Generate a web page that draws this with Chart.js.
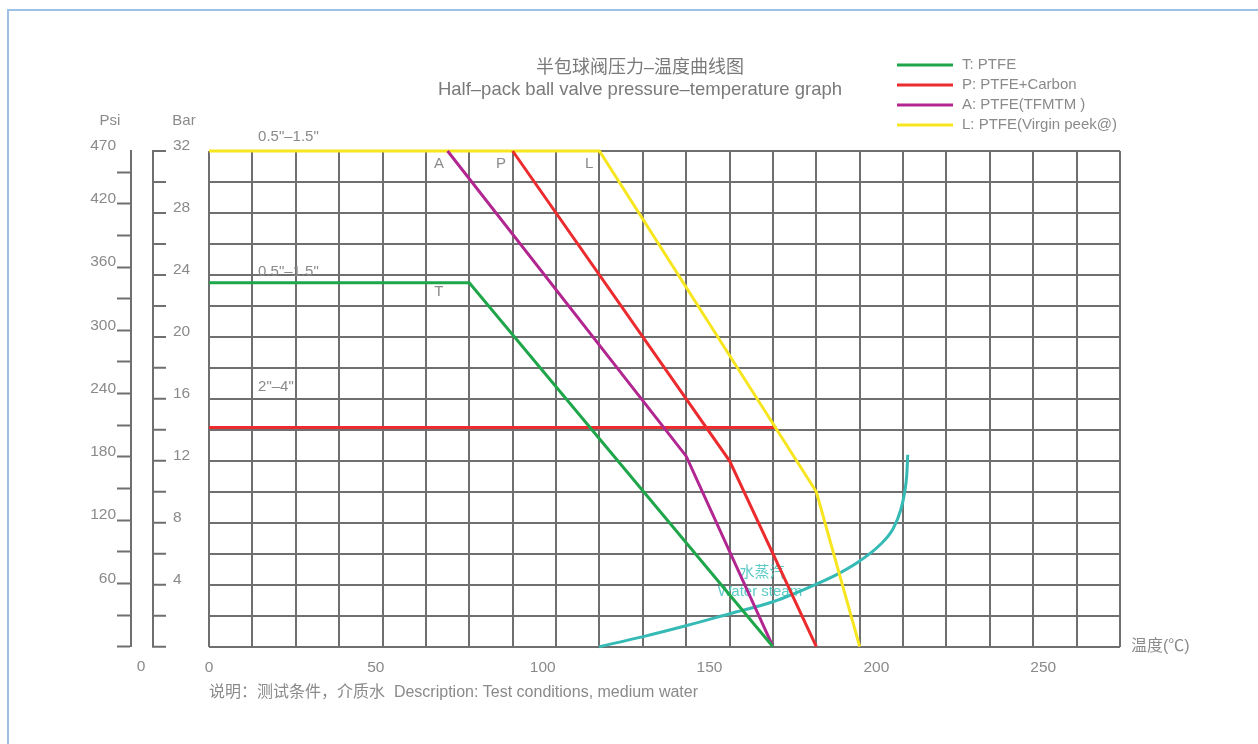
<!DOCTYPE html>
<html><head><meta charset="utf-8">
<script src="https://cdn.jsdelivr.net/npm/chart.js@4.4.1/dist/chart.umd.min.js"></script>
<style>
html,body{margin:0;padding:0;background:#fff;}
#wrap{position:relative;width:1258px;height:744px;overflow:hidden;}
#frame{position:absolute;left:7px;top:9px;width:1400px;height:900px;border-left:2px solid #9fc0e6;border-top:2px solid #9fc0e6;}
canvas{position:absolute;left:0;top:0;}
</style></head><body>
<div id="wrap"><div id="frame"></div><canvas id="c" width="1258" height="744"></canvas></div>
<script>
// ---- data: temperature (°C) on x, pressure (Bar) on y ----
const lineT_temp = [0, 78, 169];
const lineT_bar  = [23.5, 23.5, 0];
const lineP_temp = [91, 156, 182];
const lineP_bar  = [32, 12, 0];
const lineA_temp = [71.5, 143, 169];
const lineA_bar  = [32, 12.3, 0];
const lineL_temp = [0, 117, 182, 195];
const lineL_bar  = [32, 32, 10, 0];
const line2to4_temp = [0, 170];
const line2to4_bar  = [14.15, 14.15];
const steam_temp = [116.9, 130.1, 142.9, 156.1, 169.0, 182.2, 189.1, 195.1, 201.1, 205.0, 207.3, 208.5, 209.1, 209.4];
const steam_bar  = [0, 0.65, 1.35, 2.13, 2.90, 4.06, 4.77, 5.55, 6.58, 7.61, 8.84, 10.0, 11.1, 12.39];
const seriesNames = ['T: PTFE', 'P: PTFE+Carbon', 'A: PTFE(TFMTM )', 'L: PTFE(Virgin peek@)'];
const xTickLabels = [0, 50, 100, 150, 200, 250];
const barTickLabels = [4, 8, 12, 16, 20, 24, 28, 32];
const psiTickLabels = [60, 120, 180, 240, 300, 360, 420, 470];
const titleLines = ['半包球阀压力–温度曲线图', 'Half–pack ball valve pressure–temperature graph'];
const xNote = '说明：测试条件，介质水  Description: Test conditions, medium water';

// ---- styles ----
const FONT = "'Liberation Sans', 'Noto Sans CJK SC', sans-serif";
const TEXT = '#8a8a8a';
const GRID = '#6f6f6f';
const C_GREEN = '#1fa64a', C_RED = '#ec2b2e', C_PURPLE = '#b12690', C_YELLOW = '#f6e51f', C_CYAN = '#35bab6';
const X_MAX = 273, X_GRID = 13, BAR_MAX = 32, BAR_STEP = 2, PSI_MAX = 470, PSI_STEP = 30;

const pts = (xs, ys) => xs.map((x, i) => ({x, y: ys[i]}));

const annotations = [
  {text: '0.5"–1.5"', t: 14.7, bar: 32.9, align: 'left'},
  {text: '0.5"–1.5"', t: 14.7, bar: 24.2, align: 'left'},
  {text: '2"–4"', t: 14.7, bar: 16.8, align: 'left'},
  {text: 'A', t: 68.9, bar: 31.2, align: 'center'},
  {text: 'P', t: 87.5, bar: 31.2, align: 'center'},
  {text: 'L', t: 113.9, bar: 31.2, align: 'center'},
  {text: 'T', t: 68.9, bar: 22.9, align: 'center'},
  {text: '水蒸汽', t: 165.7, bar: 4.77, align: 'center', color: '#5ccac6'},
  {text: 'Water steam', t: 165.1, bar: 3.55, align: 'center', color: '#5ccac6'}
];

const decor = {
  id: 'decor',
  beforeDatasetsDraw(chart) {
    const {ctx, scales: {x, y}} = chart;
    ctx.save();
    ctx.font = '15px ' + FONT;
    ctx.textBaseline = 'middle';
    annotations.forEach(a => {
      ctx.fillStyle = a.color || TEXT;
      ctx.textAlign = a.align;
      ctx.fillText(a.text, x.getPixelForValue(a.t), y.getPixelForValue(a.bar));
    });
    ctx.restore();
  },
  afterDraw(chart) {
    const {ctx, scales: {y}} = chart;
    ctx.save();
    // title
    ctx.fillStyle = '#7a7a7a';
    ctx.textAlign = 'center';
    ctx.textBaseline = 'middle';
    ctx.font = '18px ' + FONT;
    ctx.fillText(titleLines[0], 640, 68);
    ctx.font = '18.5px ' + FONT;
    ctx.fillText(titleLines[1], 640, 90);
    // legend
    const legendSets = chart.data.datasets.filter(d => d.inLegend);
    ctx.font = '15px ' + FONT;
    ctx.textAlign = 'left';
    legendSets.forEach((d, i) => {
      const ly = 65 + i * 20;
      ctx.strokeStyle = d.borderColor;
      ctx.lineWidth = 3;
      ctx.beginPath(); ctx.moveTo(897, ly); ctx.lineTo(953, ly); ctx.stroke();
      ctx.fillStyle = TEXT;
      ctx.fillText(d.label, 962, ly);
    });
    // Bar axis (drawn from the y scale)
    const bx = Math.round(y.left) + 22;
    ctx.strokeStyle = GRID;
    ctx.lineWidth = 2;
    ctx.beginPath();
    ctx.moveTo(bx, y.getPixelForValue(BAR_MAX) - 1);
    ctx.lineTo(bx, y.getPixelForValue(0) + 1);
    for (let v = 0; v <= BAR_MAX; v += BAR_STEP) {
      const py = y.getPixelForValue(v);
      ctx.moveTo(bx - 1, py); ctx.lineTo(bx + 13, py);
    }
    ctx.stroke();
    ctx.fillStyle = TEXT;
    ctx.font = '15.5px ' + FONT;
    ctx.textAlign = 'left';
    barTickLabels.forEach(v => ctx.fillText(String(v), bx + 20, y.getPixelForValue(v) - 5));
    // axis headers
    ctx.font = '15px ' + FONT;
    ctx.textAlign = 'center';
    ctx.fillText('Psi', 110, 121);
    ctx.fillText('Bar', 184, 121);
    ctx.font = '15.5px ' + FONT;
    ctx.fillText('0', 141, 667);
    ctx.textAlign = 'left';
    ctx.font = '16px ' + FONT;
    ctx.fillText('温度(℃)', 1131, 647);
    ctx.restore();
  }
};

const lineDs = (label, data, color, inLegend) => ({
  label, data, borderColor: color, backgroundColor: color, borderWidth: 3,
  pointRadius: 0, fill: false, tension: 0, clip: false, inLegend
});

new Chart(document.getElementById('c'), {
  type: 'line',
  data: {
    datasets: [
      lineDs(seriesNames[0], pts(lineT_temp, lineT_bar), C_GREEN, true),
      lineDs(seriesNames[1], pts(lineP_temp, lineP_bar), C_RED, true),
      lineDs(seriesNames[2], pts(lineA_temp, lineA_bar), C_PURPLE, true),
      lineDs(seriesNames[3], pts(lineL_temp, lineL_bar), C_YELLOW, true),
      lineDs('2"–4"', pts(line2to4_temp, line2to4_bar), C_RED, false),
      Object.assign(lineDs('水蒸汽 Water steam', pts(steam_temp, steam_bar), C_CYAN, false), {cubicInterpolationMode: 'monotone'})
    ]
  },
  options: {
    responsive: false,
    devicePixelRatio: 1,
    animation: false,
    layout: {padding: {left: 60, right: 138, top: 151, bottom: 42}},
    plugins: {legend: {display: false}, tooltip: {enabled: false}, title: {display: false}},
    font: {family: FONT},
    scales: {
      x: {
        type: 'linear', position: 'bottom', min: 0, max: X_MAX,
        afterBuildTicks: s => {
          const v = new Set();
          for (let t = 0; t <= X_MAX; t += X_GRID) v.add(t);
          xTickLabels.forEach(t => v.add(t));
          s.ticks = [...v].sort((a, b) => a - b).map(value => ({value}));
        },
        grid: {
          color: c => (c.tick && c.tick.value % X_GRID === 0) ? GRID : 'rgba(0,0,0,0)',
          lineWidth: 2, drawTicks: false
        },
        border: {display: false},
        ticks: {
          autoSkip: false, maxRotation: 0, padding: 12, color: TEXT,
          font: {family: FONT, size: 15.5},
          callback: v => xTickLabels.includes(v) ? String(v) : ''
        },
        title: {display: true, text: xNote, align: 'start', color: TEXT,
          font: {family: FONT, size: 16}, padding: {top: -6.5, bottom: 0}}
      },
      y: {
        type: 'linear', position: 'left', weight: 0, min: 0, max: BAR_MAX,
        ticks: {display: false, stepSize: BAR_STEP},
        grid: {color: GRID, lineWidth: 2, drawTicks: false},
        border: {display: false},
        afterFit: s => { s.width = 78; }
      },
      y2: {
        type: 'linear', position: 'left', weight: 10, min: 0, max: PSI_MAX,
        afterBuildTicks: s => {
          const t = [];
          for (let v = 0; v < PSI_MAX; v += PSI_STEP) t.push({value: v});
          t.push({value: PSI_MAX});
          s.ticks = t;
        },
        grid: {
          drawOnChartArea: false, drawTicks: true, tickLength: 14, tickWidth: 2,
          tickColor: c => (c.tick && c.tick.value === PSI_MAX) ? 'rgba(0,0,0,0)' : GRID
        },
        border: {display: true, color: GRID, width: 2},
        ticks: {
          autoSkip: false, padding: 1, labelOffset: -5, color: TEXT,
          font: {family: FONT, size: 15.5},
          callback: v => psiTickLabels.includes(v) ? String(v) : ''
        },
        afterFit: s => { s.width = 71; }
      }
    }
  },
  plugins: [decor]
});
</script>
</body></html>
